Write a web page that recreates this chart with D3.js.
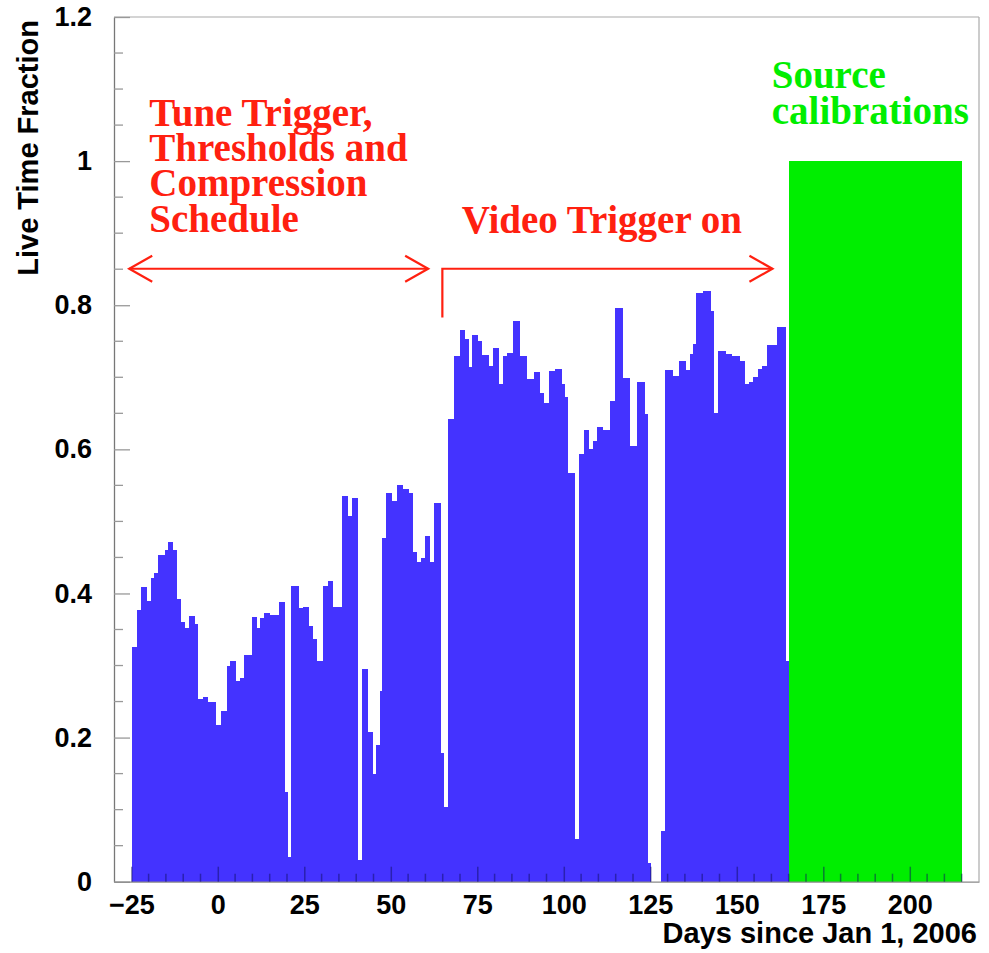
<!DOCTYPE html>
<html>
<head>
<meta charset="utf-8">
<script src="https://cdn.jsdelivr.net/npm/d3@7"></script>
<style>
  body { margin: 0; background: #fff; }
  svg { display: block; }
</style>
</head>
<body>
<svg id="chart" width="989" height="953"></svg>
<script>
// Live time fraction per run period (bin start in days since Jan 1, 2006)
const binStart = [
  -24.7, -23.45, -22.3, -20.6, -19.3, -18.3, -17.2, -15.3, -14.3, -12.9,
  -11.7, -10.6, -9.5, -8.2, -6.6, -5.6, -4.4, -2.7, -2.0, -0.5,
  0.8, 2.6, 3.5, 5.3, 6.4, 7.7, 9.8, 11.4, 12.2, 13.4,
  15.1, 16.0, 17.7, 19.4, 20.2, 21.3, 23.6, 24.7, 26.5, 27.6,
  28.6, 30.3, 31.8, 33.2, 35.8, 37.7, 38.7, 40.6, 41.6, 43.5,
  44.8, 45.6, 46.9, 47.6, 48.6, 50.3, 51.7, 53.5, 55.4, 56.5,
  57.7, 58.7, 59.9, 61.3, 62.5, 64.4, 65.4, 66.4, 68.3, 70.0,
  71.4, 72.6, 73.6, 75.3, 76.5, 78.5, 79.6, 81.4, 82.5, 83.7,
  85.4, 87.4, 89.5, 91.4, 93.2, 94.4, 95.6, 97.5, 99.4, 100.4,
  101.3, 103.2, 104.5, 105.8, 107.3, 108.5, 109.6, 111.3, 113.4, 114.7,
  117.1, 119.0, 121.2, 123.4, 124.4, 125.3, 128.2, 129.2, 131.6, 133.3,
  135.3, 136.4, 137.4, 138.3, 140.3, 142.4, 143.4, 144.6, 147.0, 148.5,
  150.9, 152.3, 153.6, 154.8, 156.2, 157.2, 158.6, 161.5, 164.1
];
const liveFraction = [
  0.326, 0.377, 0.409, 0.389, 0.421, 0.429, 0.453, 0.461, 0.471, 0.461,
  0.393, 0.361, 0.352, 0.369, 0.358, 0.253, 0.256, 0.250, 0.249, 0.217,
  0.237, 0.300, 0.306, 0.278, 0.283, 0.315, 0.367, 0.352, 0.366, 0.373,
  0.370, 0.370, 0.388, 0.124, 0.034, 0.410, 0.380, 0.381, 0.355, 0.337,
  0.306, 0.411, 0.417, 0.381, 0.535, 0.507, 0.532, 0.030, 0.295, 0.208,
  0.150, 0.190, 0.265, 0.477, 0.539, 0.528, 0.550, 0.545, 0.539, 0.457,
  0.444, 0.449, 0.480, 0.444, 0.525, 0.178, 0.104, 0.642, 0.729, 0.766,
  0.753, 0.714, 0.758, 0.750, 0.731, 0.716, 0.741, 0.690, 0.729, 0.734,
  0.778, 0.729, 0.697, 0.707, 0.678, 0.664, 0.709, 0.711, 0.691, 0.672,
  0.567, 0.059, 0.594, 0.627, 0.600, 0.612, 0.631, 0.627, 0.667, 0.796,
  0.699, 0.605, 0.693, 0.649, 0.026, 0, 0.071, 0.710, 0.702, 0.722,
  0.710, 0.732, 0.746, 0.817, 0.820, 0.792, 0.651, 0.737, 0.733, 0.730,
  0.722, 0.690, 0.693, 0.701, 0.712, 0.715, 0.745, 0.770, 0.306
];
const lastBinEnd = 165;

// Source calibration period
const calibStart = [165];
const calibFraction = [1.0];
const calibEnd = 215;

// Axis ticks
const xTickValues = [-25, 0, 25, 50, 75, 100, 125, 150, 175, 200];
const yTickValues = [0, 0.2, 0.4, 0.6, 0.8, 1.0, 1.2];

// Annotation text and the day / fraction where each block begins
const tuneLines = ["Tune Trigger,", "Thresholds and", "Compression", "Schedule"];
const tuneAt = { day: -19.8, frac: 1.049 };
const videoLabel = "Video Trigger on";
const videoAt = { day: 70.5, frac: 0.90 };
const sourceLines = ["Source", "calibrations"];
const sourceAt = { day: 160.1, frac: 1.102 };
const tuneSpan = { from: -25.6, to: 60.8, frac: 0.8506 };
const videoSpan = { from: 64.9, to: 160.3, frac: 0.8506, foot: 0.783 };

const svg = d3.select("#chart");
const plotLeft = 114, plotRight = 979, plotTop = 17, plotBottom = 881.7;

const x = d3.scaleLinear().domain([-30, 220]).range([plotLeft, plotRight]);
const y = d3.scaleLinear().domain([0, 1.2]).range([plotBottom, plotTop]);

const BLUE = "#4433ff";
const GREEN = "#00ee00";
const RED = "#ff2010";
const serif = "'Liberation Serif','Times New Roman',serif";
const sans = "'Liberation Sans',Arial,Helvetica,sans-serif";

// Histogram bars
const bins = binStart.map((s, i) => ({
  x0: s,
  x1: i + 1 < binStart.length ? binStart[i + 1] : lastBinEnd,
  v: liveFraction[i]
}));
svg.append("g").selectAll("rect").data(bins).join("rect")
  .attr("x", d => x(d.x0))
  .attr("width", d => x(d.x1) - x(d.x0))
  .attr("y", d => y(d.v))
  .attr("height", d => y(0) - y(d.v))
  .attr("fill", BLUE)
  .attr("shape-rendering", "crispEdges");

const calib = calibStart.map((s, i) => ({
  x0: s, x1: i + 1 < calibStart.length ? calibStart[i + 1] : calibEnd, v: calibFraction[i]
}));
svg.append("g").selectAll("rect").data(calib).join("rect")
  .attr("x", d => x(d.x0))
  .attr("width", d => x(d.x1) - x(d.x0))
  .attr("y", d => y(d.v))
  .attr("height", d => y(0) - y(d.v))
  .attr("fill", GREEN)
  .attr("shape-rendering", "crispEdges");

// Frame
svg.append("line").attr("x1", plotLeft).attr("x2", plotRight).attr("y1", plotTop).attr("y2", plotTop)
  .attr("stroke", "#aaa").attr("stroke-width", 1.2);
svg.append("line").attr("x1", plotRight).attr("x2", plotRight).attr("y1", plotTop).attr("y2", plotBottom)
  .attr("stroke", "#aaa").attr("stroke-width", 1.2);

// Y axis: major and minor ticks pointing inward
const yAxis = d3.axisLeft(y).tickValues(yTickValues).tickSize(-16).tickSizeOuter(0)
  .tickPadding(22).tickFormat(d => String(+d.toFixed(1)));
const gy = svg.append("g").attr("transform", `translate(${plotLeft},0)`).call(yAxis);
gy.select(".domain").attr("stroke", "#777").attr("stroke-width", 1.3);
gy.selectAll(".tick line").attr("stroke", "#999").attr("stroke-width", 1.3);
gy.selectAll(".tick text").attr("font-family", sans).attr("font-weight", "bold")
  .attr("font-size", 27).attr("fill", "#000");
const yMinor = d3.range(0, 1.2001, 0.05).filter(v => !yTickValues.some(t => Math.abs(t - v) < 1e-6));
svg.append("g").selectAll("line").data(yMinor).join("line")
  .attr("x1", plotLeft).attr("x2", plotLeft + 9)
  .attr("y1", d => y(d)).attr("y2", d => y(d))
  .attr("stroke", "#999").attr("stroke-width", 1.3);

// X axis: ticks drawn over the bars
const xAxis = d3.axisBottom(x).tickValues(xTickValues).tickSize(-15).tickSizeOuter(0)
  .tickPadding(13).tickFormat(d3.format("d"));
const gx = svg.append("g").attr("transform", `translate(0,${plotBottom})`).call(xAxis);
gx.select(".domain").attr("stroke", "#888").attr("stroke-width", 1.3);
gx.selectAll(".tick line").attr("stroke", "#101060").attr("stroke-opacity", 0.5).attr("stroke-width", 1.5);
gx.selectAll(".tick text").attr("font-family", sans).attr("font-weight", "bold")
  .attr("font-size", 27).attr("fill", "#000");
const xMinor = d3.range(-25, 220, 5).filter(v => !xTickValues.includes(v));
svg.append("g").selectAll("line").data(xMinor).join("line")
  .attr("x1", d => x(d)).attr("x2", d => x(d))
  .attr("y1", plotBottom).attr("y2", plotBottom - 8)
  .attr("stroke", "#101060").attr("stroke-opacity", 0.5).attr("stroke-width", 1.5);

// Axis titles
svg.append("text").attr("x", plotRight - 2).attr("y", 943)
  .attr("text-anchor", "end").attr("font-family", sans).attr("font-weight", "bold")
  .attr("font-size", 29).attr("fill", "#000").text("Days since Jan 1, 2006");
svg.append("text").attr("transform", "translate(38,20) rotate(-90)")
  .attr("text-anchor", "end").attr("font-family", sans).attr("font-weight", "bold")
  .attr("font-size", 29).attr("fill", "#000").text("Live Time Fraction");

// Annotations
const ann = svg.append("g");
const tuneText = ann.append("text").attr("font-family", serif).attr("font-weight", "bold")
  .attr("font-size", 39).attr("fill", RED);
tuneLines.forEach((t, i) => tuneText.append("tspan")
  .attr("x", x(tuneAt.day)).attr("y", y(tuneAt.frac) + i * 35.3).text(t));

ann.append("text").attr("x", x(videoAt.day)).attr("y", y(videoAt.frac))
  .attr("font-family", serif).attr("font-weight", "bold")
  .attr("font-size", 39).attr("fill", RED).text(videoLabel);

const srcText = ann.append("text").attr("font-family", serif).attr("font-weight", "bold")
  .attr("font-size", 39).attr("fill", GREEN);
sourceLines.forEach((t, i) => srcText.append("tspan")
  .attr("x", x(sourceAt.day)).attr("y", y(sourceAt.frac) + i * 36.7).text(t));

// Arrows
const headL = 23, headH = 13;
function head(px, py, dir) {
  return `M${px - dir * headL},${py - headH}L${px},${py}L${px - dir * headL},${py + headH}`;
}
const arrowStyle = s => s.attr("fill", "none").attr("stroke", RED).attr("stroke-width", 2.2);

const ty = y(tuneSpan.frac);
ann.append("line").attr("x1", x(tuneSpan.from)).attr("x2", x(tuneSpan.to))
  .attr("y1", ty).attr("y2", ty).call(arrowStyle);
ann.append("path").attr("d", head(x(tuneSpan.from), ty, -1)).call(arrowStyle);
ann.append("path").attr("d", head(x(tuneSpan.to), ty, 1)).call(arrowStyle);

const vy = y(videoSpan.frac);
ann.append("path")
  .attr("d", `M${x(videoSpan.from)},${y(videoSpan.foot)}L${x(videoSpan.from)},${vy}L${x(videoSpan.to)},${vy}`)
  .call(arrowStyle);
ann.append("path").attr("d", head(x(videoSpan.to), vy, 1)).call(arrowStyle);
</script>
</body>
</html>
